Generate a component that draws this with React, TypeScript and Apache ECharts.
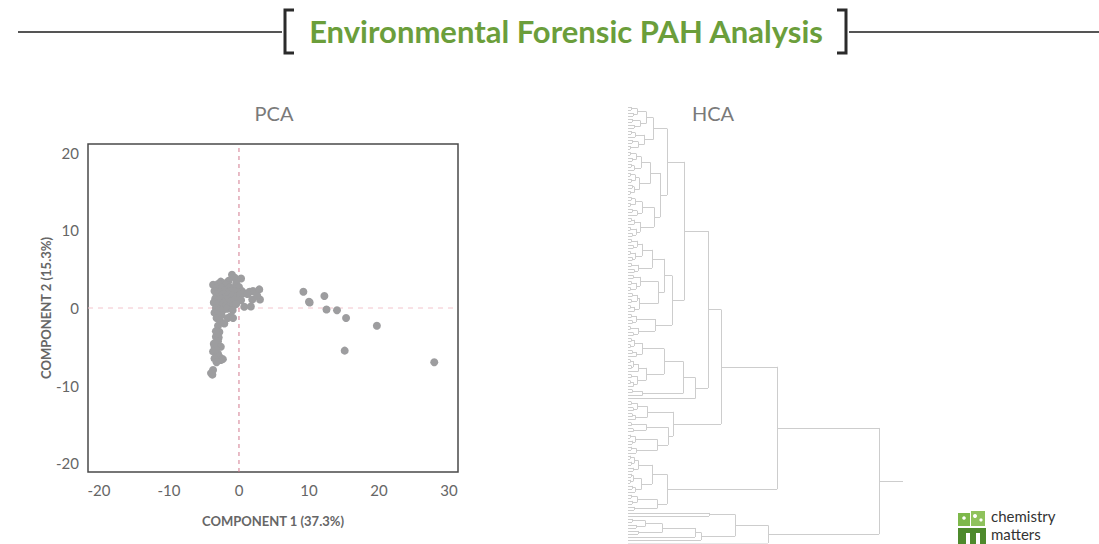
import React, { useEffect, useRef } from "react";
import * as echarts from "echarts";

// ---------- PCA data (component 1, component 2) ----------
const pcaCluster: [number, number][] = [
  [-1.0, 4.3], [-0.6, 3.9], [0.3, 3.8], [-1.5, 3.5], [-2.6, 3.4], [-3.7, 3.0], [-2.2, 3.2], [-3.0, 3.1],
  [-1.8, 3.0], [-0.4, 3.2], [-2.8, 2.8], [-3.3, 2.5], [-2.4, 2.6], [-1.3, 2.7], [-0.8, 2.5], [0.0, 2.7],
  [-3.5, 2.2], [-3.0, 2.0], [-2.6, 2.2], [-2.0, 2.3], [-1.6, 2.0], [-1.1, 2.2], [-0.5, 2.1], [0.4, 2.2],
  [-3.2, 1.7], [-2.7, 1.5], [-2.3, 1.8], [-1.8, 1.5], [-1.4, 1.7], [-0.9, 1.6], [-0.3, 1.5], [0.2, 1.7],
  [0.7, 1.9], [1.5, 2.1], [2.0, 2.2], [2.9, 2.4], [1.2, 1.8], [-3.4, 1.2], [-2.9, 1.0], [-2.5, 1.2],
  [-2.0, 0.9], [-1.6, 1.1], [-1.2, 0.8], [-0.7, 1.0], [-0.2, 0.9], [0.3, 1.0], [1.9, 1.1], [3.0, 1.1],
  [2.6, 1.6], [-3.6, 0.7], [-3.1, 0.5], [-2.6, 0.3], [-2.2, 0.6], [-1.8, 0.3], [-1.3, 0.4], [-0.9, 0.2],
  [-0.4, 0.5], [0.75, 0.17], [1.7, 0.2], [-3.3, 0.0], [-2.8, -0.2], [-2.3, -0.3], [-1.7, -0.1], [-0.9, -0.3],
  [-3.5, -0.6], [-3.0, -0.8], [-2.5, -0.9], [-1.2, -1.1], [-1.6, -1.3], [-0.85, -1.3], [-3.2, -1.3], [-2.7, -1.6],
  [-2.1, -2.0], [-3.0, -2.3], [-2.8, -3.1], [-3.3, -3.0], [-3.3, -3.7], [-2.9, -3.8], [-3.0, -4.3], [-3.6, -4.6],
  [-3.5, -5.0], [-2.6, -5.0], [-3.3, -5.4], [-3.7, -5.6], [-3.0, -5.9], [-2.8, -6.3], [-3.5, -6.5], [-2.6, -6.7],
  [-2.3, -6.6], [-3.2, -7.0], [-3.7, -8.0], [-4.0, -8.4], [-3.8, -8.6]
];
const pcaOutliers: [number, number][] = [
  [9.2, 2.1], [10.0, 0.8], [10.1, 0.7], [12.2, 1.55], [12.5, -0.2], [14.0, -0.3],
  [15.3, -1.3], [19.7, -2.3], [15.1, -5.5], [27.9, -7.0]
];
const xTicks = [-20, -10, 0, 10, 20, 30];
const yTicks = [-20, -10, 0, 10, 20];
const X_MIN = -21.57, X_MAX = 31.29, Y_MIN = -21.16, Y_MAX = 21.16;
const zeroLineX: [number, number][] = [[0, Y_MIN], [0, Y_MAX]];
const zeroLineY: [number, number][] = [[X_MIN, 0], [X_MAX, 0]];

// ---------- HCA dendrogram (merge heights, leaves = x) ----------
const P1a1 = "(((xx)3(xx)5)9((xx)4(xx)6)12)18";
const P1a2 = "(((xx)3x)7((xx)4(xx)2)10)16";
const P1b1 = "((((xx)2(xx)4)8((xx)3x)6)13(((xx)2(xx)3)7((xx)4(xx)2)6)11)22";
const P1b2 = "((((xx)3(xx)2)7((xx)4x)9)14(((xx)3x)6((xx)2(xx)4)8)12)26";
const P2a1 = "((((xx)3(xx)5)9((xx)2(xx)4)7)14((xx)3(xx)6)10)24";
const P2a2 = "(((xx)5((xx)3(xx)2)8)12(((xx)4(xx)3)9((xx)2x)6)11)30";
const P2b = "(((xx)3(xx)4)8((xx)2(xx)5)10)27";
const Q1a = "((((xx)3(xx)2)6((xx)4x)8)14((((xx)2(xx)3)5x)10((xx)3((xx)2x)5)9)18)36";
const Q1b = "((xx)4x)14";
const U1b1 = "(((xx)3(xx)5)9((xx)4x)7)19";
const U1b2 = "(((xx)3(xx)5)18(((xx)2(xx)4)7((xx)3x)8)29)40";
const U2a = "((((xx)2(xx)3)6(xx)5)10(((xx)3(xx)2)5((xx)4x)7)13)24";
const U2b = "(((xx)3(xx)4)9(xx)6)29";
const L1A = "(xx)81";
const L1B = "(((((xx)4(xx)8)17(xx)10)34x)67x)73";

const P1 = `((${P1a1}${P1a2})25(${P1b1}${P1b2})32)39`;
const P2 = `((${P2a1}${P2a2})36${P2b})44`;
const P = `(${P1}${P2})56`;
const Q = `((${Q1a}${Q1b})55x)67`;
const U1 = `((${P}${Q})80(${U1b1}${U1b2})45)93`;
const U2 = `(${U2a}${U2b})39`;
const U = `(${U1}${U2})149`;
const L = `((${L1A}${L1B})107x)140`;
const TREE = `(${U}${L})251`;
const ROOT_STUB = 275;

type TNode = { h: number; pos: number; children?: TNode[] };

function parseTree(s: string): { root: TNode; n: number } {
  let i = 0;
  let leaf = 0;
  const node = (): TNode => {
    if (s[i] === "x") {
      i++;
      return { h: 0, pos: leaf++ };
    }
    i++; // (
    const ch: TNode[] = [];
    while (s[i] !== ")") ch.push(node());
    i++; // )
    let num = "";
    while (i < s.length && /[0-9.]/.test(s[i])) num += s[i++];
    return { h: parseFloat(num), pos: (ch[0].pos + ch[ch.length - 1].pos) / 2, children: ch };
  };
  const root = node();
  return { root, n: leaf };
}

function segments(root: TNode): number[][][] {
  const out: number[][][] = [];
  const walk = (nd: TNode) => {
    if (!nd.children) return;
    const c = nd.children;
    out.push([[nd.h, c[0].pos], [nd.h, c[c.length - 1].pos]]);
    c.forEach((ch) => {
      out.push([[ch.h, ch.pos], [nd.h, ch.pos]]);
      walk(ch);
    });
  };
  walk(root);
  out.push([[root.h, root.pos], [ROOT_STUB, root.pos]]);
  return out;
}

const FONT = "Lato, 'Open Sans', sans-serif";

export default function App() {
  const ref = useRef<HTMLDivElement>(null);
  useEffect(() => {
    if (!ref.current) return;
    const chart = echarts.init(ref.current, undefined, { renderer: "svg" });
    const { root, n } = parseTree(TREE);
    const segs = segments(root);

    chart.setOption({
      animation: false,
      backgroundColor: "#ffffff",
      textStyle: { fontFamily: FONT },
      grid: [
        { left: 88, top: 144, width: 370, height: 328, show: true, borderColor: "#4a4a4a", borderWidth: 1.5, backgroundColor: "transparent" },
        { left: 628, top: 107, width: 275, height: 436, show: false }
      ],
      xAxis: [
        {
          gridIndex: 0, type: "value", min: X_MIN, max: X_MAX,
          splitLine: { show: false }, axisLine: { show: false }, axisTick: { show: false },
          axisLabel: { customValues: xTicks, color: "#666", fontSize: 15, margin: 10, fontFamily: FONT },
          name: "COMPONENT 1 (37.3%)", nameLocation: "middle", nameGap: 42,
          nameTextStyle: { color: "#666", fontSize: 13, fontWeight: "bold", fontFamily: FONT }
        },
        { gridIndex: 1, type: "value", min: 0, max: ROOT_STUB, show: false }
      ],
      yAxis: [
        {
          gridIndex: 0, type: "value", min: Y_MIN, max: Y_MAX,
          splitLine: { show: false }, axisLine: { show: false }, axisTick: { show: false },
          axisLabel: { customValues: yTicks, color: "#666", fontSize: 15, margin: 9, fontFamily: FONT },
          name: "COMPONENT 2 (15.3%)", nameLocation: "middle", nameGap: 36,
          nameTextStyle: { color: "#666", fontSize: 13, fontWeight: "bold", fontFamily: FONT }
        },
        { gridIndex: 1, type: "value", min: 0, max: n - 1, inverse: true, show: false }
      ],
      series: [
        {
          type: "line", xAxisIndex: 0, yAxisIndex: 0, data: zeroLineY, showSymbol: false, silent: true,
          lineStyle: { color: "#f3c4cc", type: [5, 5], width: 1 }, z: 1
        },
        {
          type: "line", xAxisIndex: 0, yAxisIndex: 0, data: zeroLineX, showSymbol: false, silent: true,
          lineStyle: { color: "#d27a8f", type: [4, 4], width: 1 }, z: 1
        },
        {
          type: "scatter", xAxisIndex: 0, yAxisIndex: 0,
          data: [...pcaCluster, ...pcaOutliers],
          symbolSize: 8, z: 3,
          itemStyle: { color: "#9d9d9f", opacity: 1 }
        },
        {
          type: "lines", coordinateSystem: "cartesian2d", xAxisIndex: 1, yAxisIndex: 1,
          polyline: false, silent: true,
          lineStyle: { color: "#cdcdcd", width: 1, opacity: 1 },
          data: segs.map((c) => ({ coords: c }))
        }
      ],
      graphic: [
        { type: "line", shape: { x1: 18, y1: 32, x2: 282, y2: 32 }, style: { stroke: "#555", lineWidth: 2 } },
        { type: "line", shape: { x1: 849, y1: 32, x2: 1099, y2: 32 }, style: { stroke: "#555", lineWidth: 2 } },
        { type: "polyline", shape: { points: [[294, 10], [285, 10], [285, 53], [294, 53]] }, style: { stroke: "#2b2b2b", lineWidth: 3, fill: "none" } },
        { type: "polyline", shape: { points: [[837, 10], [846, 10], [846, 53], [837, 53]] }, style: { stroke: "#2b2b2b", lineWidth: 3, fill: "none" } },
        {
          type: "text", x: 566, y: 31,
          style: { text: "Environmental Forensic PAH Analysis", fill: "#6b9e3b", fontSize: 31, fontWeight: "bold", fontFamily: FONT, align: "center", verticalAlign: "middle" }
        },
        { type: "text", x: 274, y: 113, style: { text: "PCA", fill: "#7a7a7a", fontSize: 20, fontFamily: FONT, align: "center", verticalAlign: "middle" } },
        { type: "text", x: 713, y: 113, style: { text: "HCA", fill: "#7a7a7a", fontSize: 20, fontFamily: FONT, align: "center", verticalAlign: "middle" } },
        // logo
        { type: "rect", shape: { x: 958, y: 513, width: 12, height: 13 }, style: { fill: "#7db84a" } },
        { type: "rect", shape: { x: 971, y: 511, width: 14, height: 15 }, style: { fill: "#8fc25c" } },
        { type: "circle", shape: { cx: 975, cy: 516, r: 2 }, style: { fill: "#fff" } },
        { type: "circle", shape: { cx: 981, cy: 520, r: 1.6 }, style: { fill: "#fff" } },
        { type: "circle", shape: { cx: 964, cy: 518, r: 1.8 }, style: { fill: "#fff" } },
        { type: "rect", shape: { x: 958, y: 528, width: 28, height: 17 }, style: { fill: "#4e8a2c" } },
        { type: "rect", shape: { x: 966, y: 533, width: 4, height: 12 }, style: { fill: "#fff" } },
        { type: "rect", shape: { x: 976, y: 533, width: 4, height: 12 }, style: { fill: "#fff" } },
        {
          type: "text", x: 991, y: 525,
          style: { text: "chemistry\nmatters", fill: "#333", fontSize: 15, lineHeight: 18.5, fontFamily: FONT, verticalAlign: "middle" }
        }
      ]
    });
    return () => chart.dispose();
  }, []);
  return <div ref={ref} style={{ position: "fixed", left: 0, top: 0, width: 1099, height: 544 }} />;
}
